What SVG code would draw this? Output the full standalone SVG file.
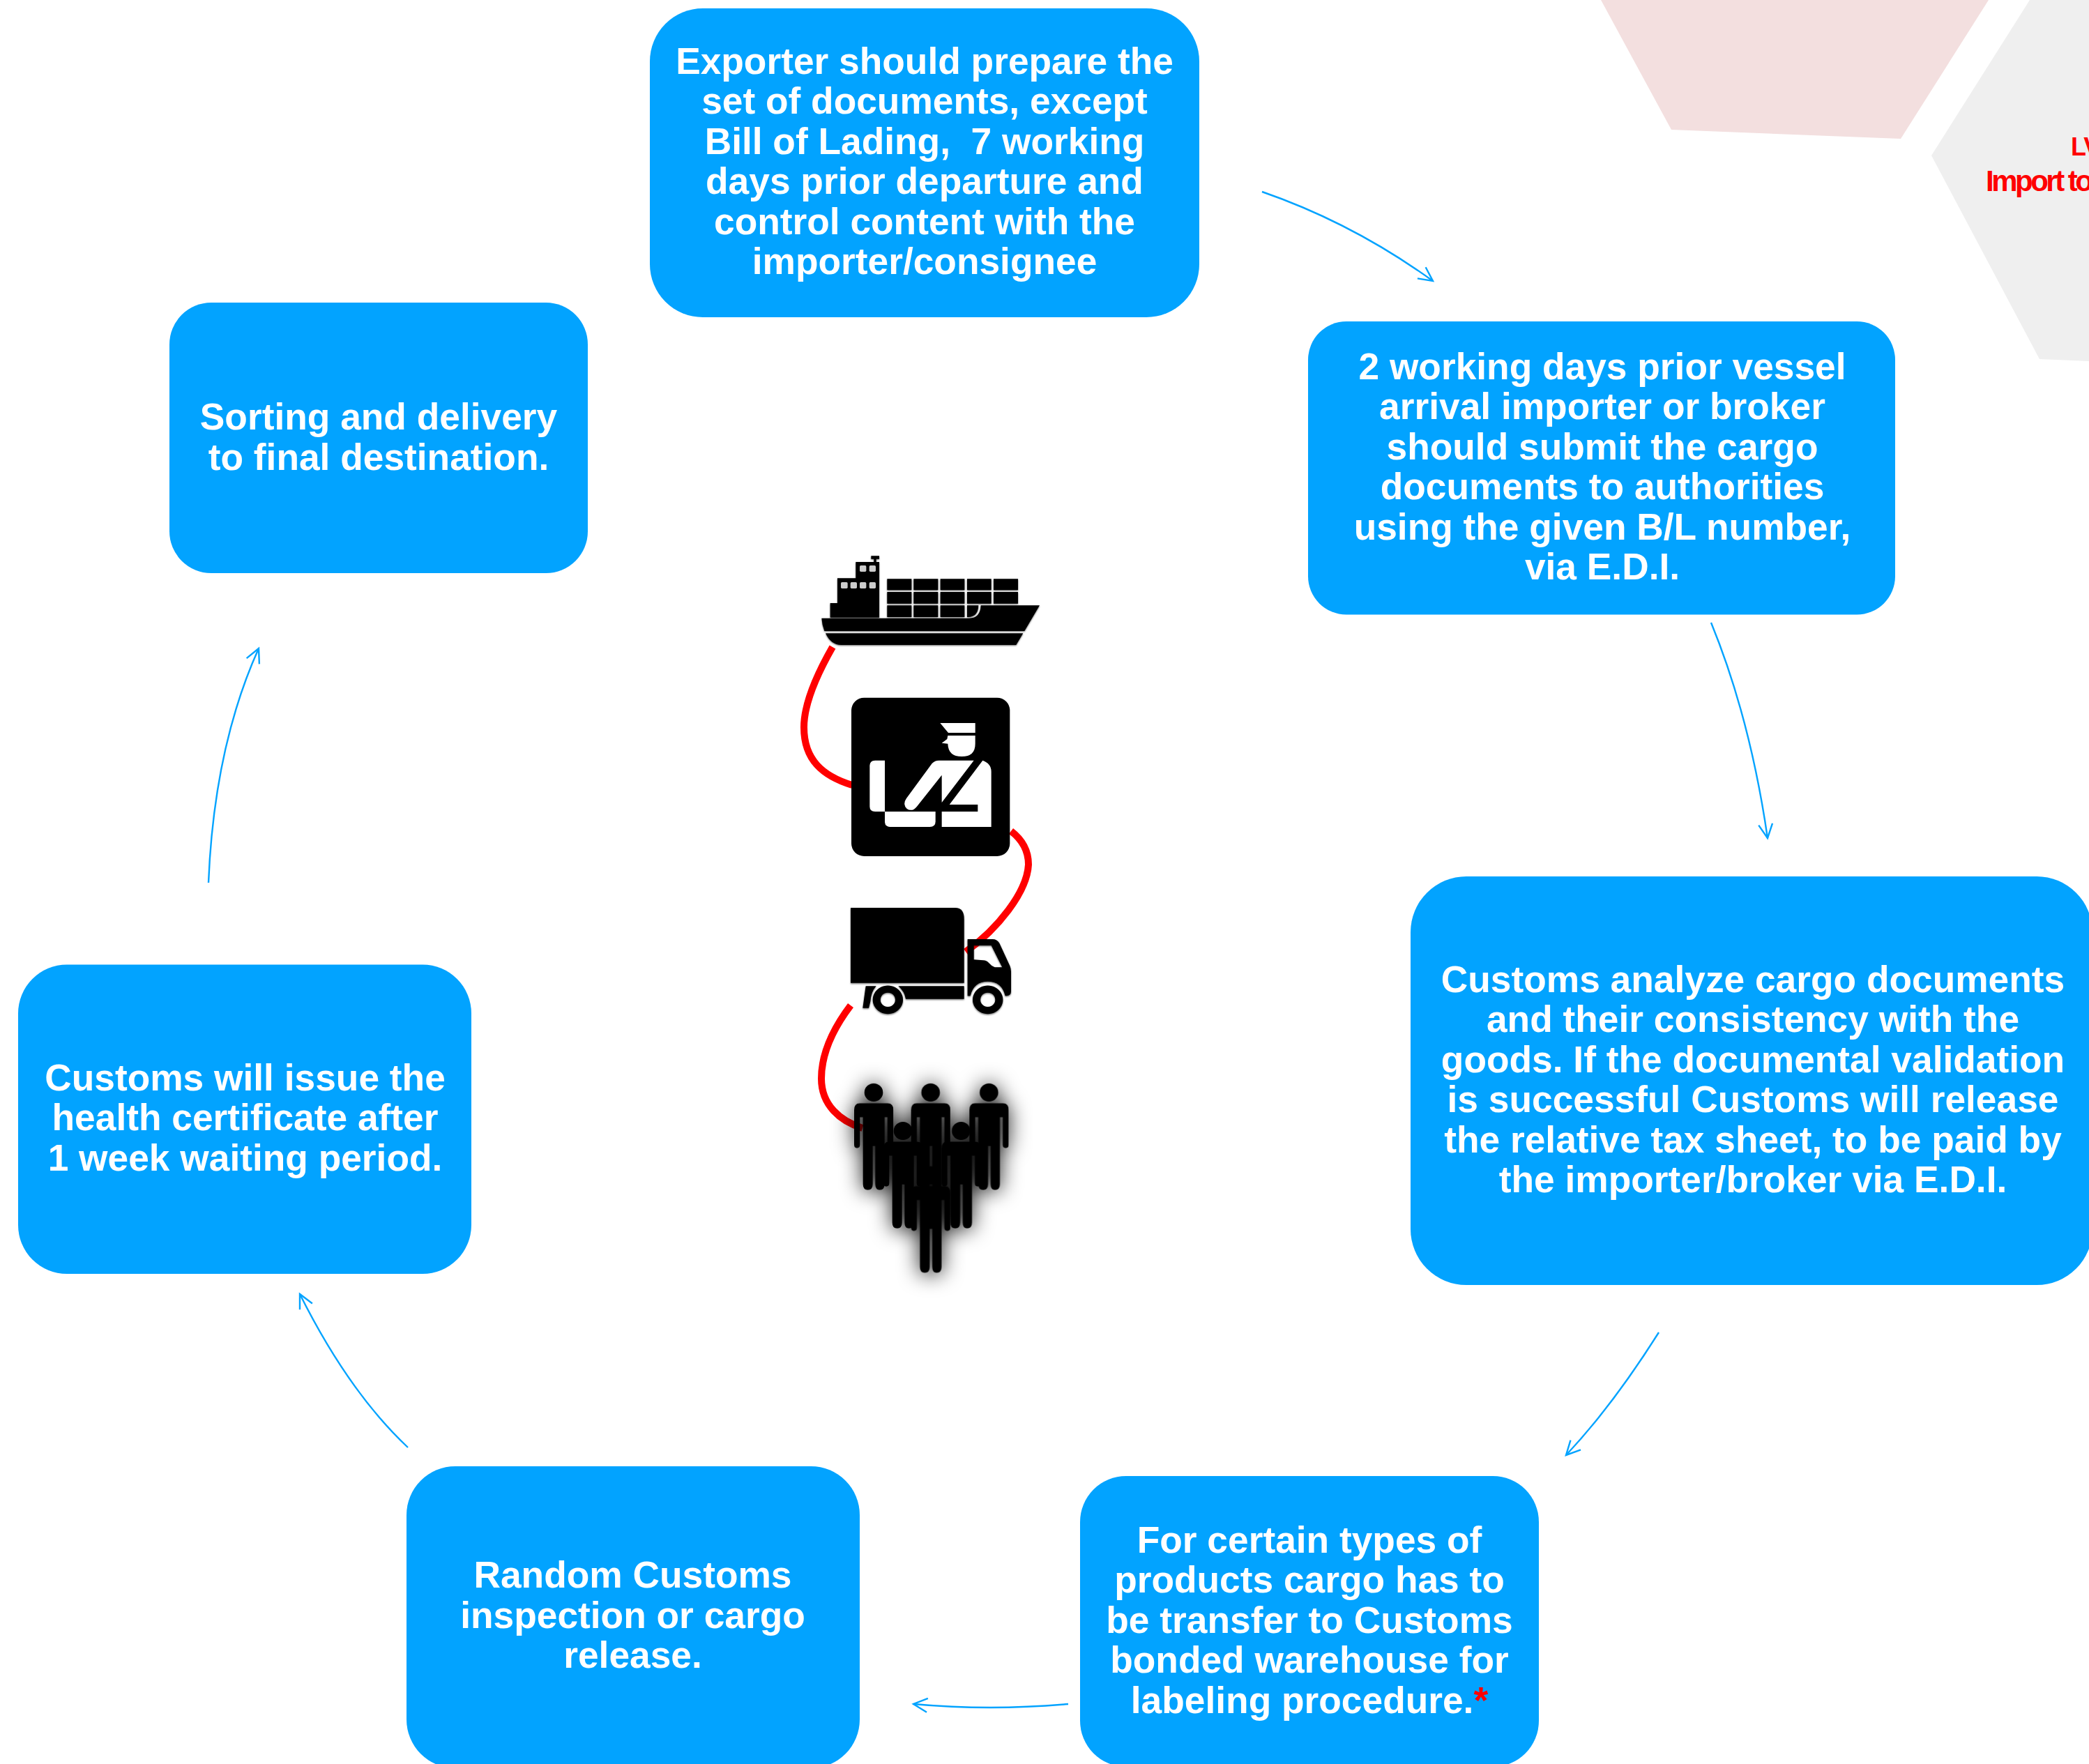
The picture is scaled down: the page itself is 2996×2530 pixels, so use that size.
<svg xmlns="http://www.w3.org/2000/svg" width="2996" height="2530" viewBox="0 0 2996 2530">
<style>
.box{fill:#02a3ff}
.t{font-family:"Liberation Sans",Arial,sans-serif;font-weight:700;font-size:53.3px;fill:#fff;text-anchor:middle;white-space:pre}
.r{font-family:"Liberation Sans",Arial,sans-serif;font-weight:700;fill:#f00}
.arrow{fill:none;stroke:#02a3ff;stroke-width:2.4;marker-end:url(#open)}
.red{fill:none;stroke:#f00;stroke-width:10}
.win{fill:#ccc}
</style>
<defs>
<marker id="open" markerUnits="userSpaceOnUse" markerWidth="30" markerHeight="30" refX="22" refY="12" orient="auto">
<path d="M2,2 L22,12 L2,22" fill="none" stroke="#02a3ff" stroke-width="2.4"/>
</marker>
<filter id="soft" x="-5%" y="-5%" width="110%" height="112%"><feDropShadow dx="0" dy="3" stdDeviation="3" flood-color="#000" flood-opacity=".6"/></filter>
<filter id="halo" x="-40%" y="-40%" width="180%" height="180%"><feDropShadow dx="0" dy="6" stdDeviation="44 36" flood-color="#000" flood-opacity="1"/></filter>
<g id="person">
<ellipse cx="0" cy="0" rx="40" ry="32"/>
<path d="M-60,38 H60 Q85,38 85,62 V183 Q85,195 72,195 Q59,195 59,183 V87 H47 V322 Q47,342 26,342 Q7,342 7,322 V188 H-4 V322 Q-4,342 -25,342 Q-46,342 -46,322 V87 H-59 V183 Q-59,195 -72,195 Q-84,195 -84,183 V62 Q-84,38 -60,38Z"/>
</g>
</defs>
<rect width="2996" height="2530" fill="#fff"/>
<g id="background-hexagons">
<polygon points="2296,0 2852,0 2726,199 2397,186" fill="#f3dfdf"/>
<polygon points="2911,0 2996,0 2996,518 2925,515 2770,223" fill="#efefef"/>
<text class="r" x="2970" y="223" font-size="36" letter-spacing="-1">LV</text>
<text class="r" x="2848" y="274" font-size="42" letter-spacing="-3.5">Import to</text>
</g>
<g id="connectors">
<path class="arrow" d="M1810,275 Q1940,320 2055,403"/>
<path class="arrow" d="M2454,893 Q2510,1030 2535,1202"/>
<path class="arrow" d="M2379,1911 Q2312,2017 2246,2087"/>
<path class="arrow" d="M1532,2444 Q1420,2454 1310,2444"/>
<path class="arrow" d="M585,2076 Q500,1996 430,1856"/>
<path class="arrow" d="M299,1266 Q307,1072 371,930"/>
<path class="red" d="M1194,928 C1170,970 1153,1010 1153,1043 C1153,1090 1180,1113 1222,1126"/>
<path class="red" d="M1450,1192 C1467,1205 1475,1222 1475,1240 C1473,1280 1430,1333 1385,1365"/>
<path class="red" d="M1220,1442 C1195,1475 1178,1510 1178,1547 C1178,1585 1205,1608 1237,1618"/>
</g>
<g id="node-exporter">
<rect class="box" x="932" y="12" width="788" height="443" rx="76"/>
<text class="t"><tspan x="1326" y="105.500">Exporter should prepare the</tspan><tspan x="1326" y="163">set of documents, except</tspan><tspan x="1326" y="220.500">Bill of Lading,  7 working</tspan><tspan x="1326" y="278">days prior departure and</tspan><tspan x="1326" y="335.500">control content with the</tspan><tspan x="1326" y="393">importer/consignee</tspan></text>
</g>
<g id="node-broker">
<rect class="box" x="1876" y="461" width="842" height="420.500" rx="55"/>
<text class="t"><tspan x="2298" y="543.500">2 working days prior vessel</tspan><tspan x="2298" y="601">arrival importer or broker</tspan><tspan x="2298" y="658.500">should submit the cargo</tspan><tspan x="2298" y="716">documents to authorities</tspan><tspan x="2298" y="773.500">using the given B/L number,</tspan><tspan x="2298" y="831">via E.D.I.</tspan></text>
</g>
<g id="node-customs-analysis">
<rect class="box" x="2023" y="1257" width="978" height="586" rx="80"/>
<text class="t"><tspan x="2514" y="1422.500">Customs analyze cargo documents</tspan><tspan x="2514" y="1480">and their consistency with the</tspan><tspan x="2514" y="1537.500">goods. If the documental validation</tspan><tspan x="2514" y="1595">is successful Customs will release</tspan><tspan x="2514" y="1652.500">the relative tax sheet, to be paid by</tspan><tspan x="2514" y="1710">the importer/broker via E.D.I.</tspan></text>
</g>
<g id="node-warehouse">
<rect class="box" x="1549" y="2117" width="658" height="417" rx="66"/>
<text class="t"><tspan x="1878" y="2226.500">For certain types of</tspan><tspan x="1878" y="2284">products cargo has to</tspan><tspan x="1878" y="2341.500">be transfer to Customs</tspan><tspan x="1878" y="2399">bonded warehouse for</tspan><tspan x="1878" y="2456.500">labeling procedure.<tspan fill="#f00">*</tspan></tspan></text>
</g>
<g id="node-inspection">
<rect class="box" x="583" y="2103" width="650" height="433" rx="70"/>
<text class="t"><tspan x="907.500" y="2277">Random Customs</tspan><tspan x="907.500" y="2334.500">inspection or cargo</tspan><tspan x="907.500" y="2392">release.</tspan></text>
</g>
<g id="node-health">
<rect class="box" x="26" y="1383.500" width="650" height="443.500" rx="70"/>
<text class="t"><tspan x="351.500" y="1563.500">Customs will issue the</tspan><tspan x="351.500" y="1621">health certificate after</tspan><tspan x="351.500" y="1678.500">1 week waiting period.</tspan></text>
</g>
<g id="node-delivery">
<rect class="box" x="243" y="434" width="600" height="388" rx="60"/>
<text class="t"><tspan x="543" y="616">Sorting and delivery</tspan><tspan x="543" y="673.500">to final destination.</tspan></text>
</g>
<g id="icon-ship" transform="translate(1120,770) scale(.33333)" filter="url(#soft)">
<path d="M388,82 H423 V95 H410 V108 H400 V95 H388Z"/>
<path d="M322,108 H423 V347 H212 V285 H243 V178 H322Z"/>
<path d="M457,181h105v48H457z M571,181h105v48H571z M686,181h104v48H686z M801,181h104v48H801z M915,181h105v48H915z M457,237h105v50H457z M571,237h105v50H571z M686,237h104v50H686z M801,237h104v50H801z M915,237h105v50H915z M457,295h105v50H457z M571,295h105v50H571z M686,295h104v50H686z"/>
<path d="M801,295 H850 Q848,345 805,345 H801Z"/>
<path d="M860,295 H1113 L1048,405 H187 Q177,380 175,350 H810 Q858,350 860,295Z"/>
<path d="M192,415 H1042 L1012,465 H260 Q215,465 192,415Z"/>
<rect class="win" x="339" y="123" width="28" height="27" rx="5"/><rect class="win" x="380" y="123" width="28" height="27" rx="5"/>
<rect class="win" x="258" y="195" width="29" height="27" rx="5"/><rect class="win" x="299" y="195" width="28" height="27" rx="5"/><rect class="win" x="339" y="195" width="28" height="27" rx="5"/><rect class="win" x="380" y="195" width="28" height="27" rx="5"/>
</g>
<g id="icon-customs" transform="translate(1120,770) scale(.33333)">
<rect x="303" y="692" width="682" height="682" rx="55"/>
<g fill="#fff">
<path d="M685,801 H836 V843 H720Z"/>
<path d="M718,855 H836 V890 Q836,945 778,945 Q720,945 718,890 L692,887 L715,870Z"/>
<path d="M405,962 H447 V1182 H405 Q382,1182 382,1160 V985 Q382,962 405,962Z"/>
<path d="M447,1182 H665 V1225 Q665,1248 640,1248 H470 Q447,1248 447,1225Z"/>
<path d="M680,962 H830 L692,1143 V1025 L585,1160 Q565,1185 542,1170 Q522,1150 540,1125 L650,975 Q662,962 680,962Z"/>
<path d="M868,962 Q905,975 905,1010 V1248 H692 V1182 H847 V1152 H725Z"/>
</g>
</g>
<g id="icon-truck" transform="translate(1120,1220) scale(.33333,.40816)" filter="url(#soft)">
<path d="M300,201 H750 Q788,201 788,240 V465 H300Z"/>
<path d="M365,476 H410 Q388,495 385,530 L378,553 H352Z"/>
<path d="M505,476 H788 V521 H537 Q532,495 505,476Z"/>
<path fill-rule="evenodd" d="M460,474 a65,50 0 1,0 .1,0Z M460,499 a32,25 0 1,0 .1,0Z"/>
<path fill-rule="evenodd" d="M803,311 H910 Q930,311 940,325 L985,405 Q990,415 990,425 V495 Q990,510 970,510 H965 Q950,460 890,460 Q830,460 815,510 H803Z M830,333 H905 L952,410 H920 Q905,405 895,395 Q885,385 870,385 L830,383Z"/>
<path fill-rule="evenodd" d="M890,474 a65,50 0 1,0 .1,0Z M890,499 a32,25 0 1,0 .1,0Z"/>
</g>
<g id="icon-people" transform="translate(1121,1220) scale(.33333,.40816)" filter="url(#halo)">
<use href="#person" x="396" y="850"/>
<use href="#person" x="641" y="850"/>
<use href="#person" x="892" y="850"/>
<use href="#person" x="522" y="985"/>
<use href="#person" x="772" y="985"/>
<use href="#person" x="641" y="1141"/>
</g>
</svg>
